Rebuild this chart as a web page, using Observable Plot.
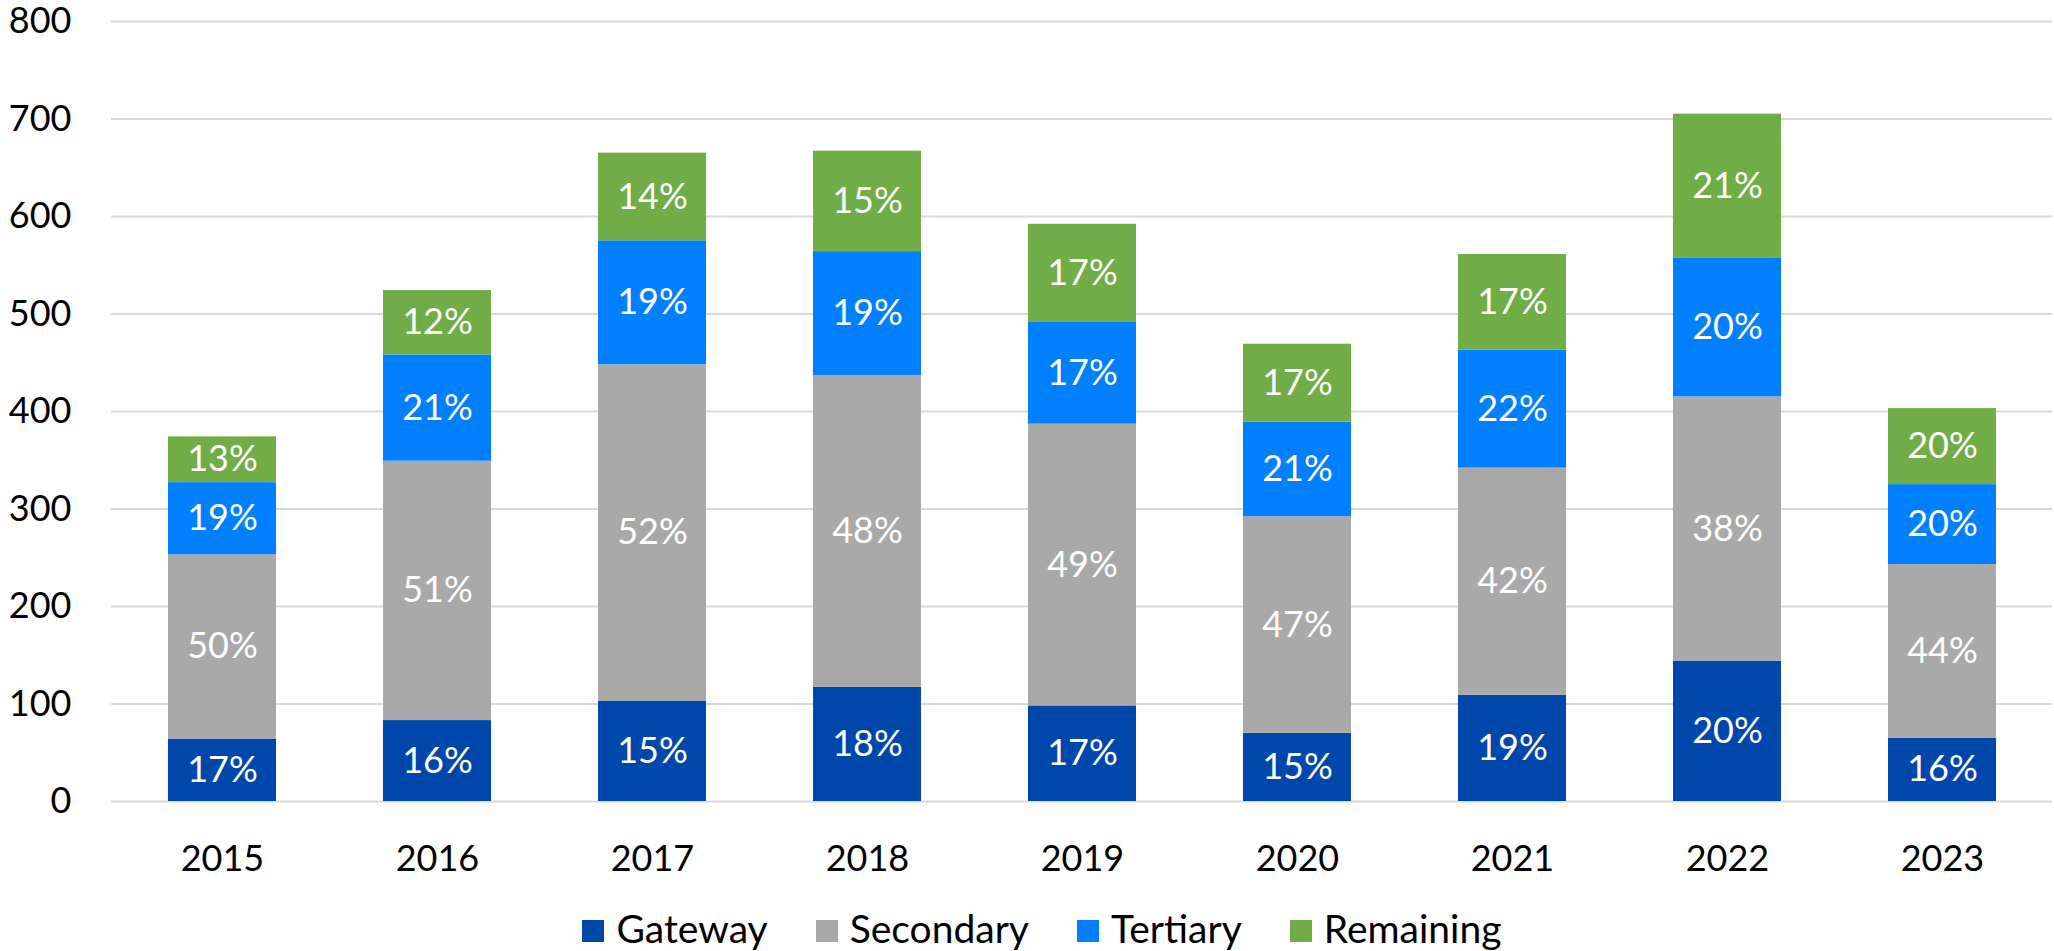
<!DOCTYPE html>
<html>
<head>
<meta charset="utf-8">
<script src="https://cdn.jsdelivr.net/npm/d3@7"></script>
<script src="https://cdn.jsdelivr.net/npm/@observablehq/plot@0.6"></script>
<style>
  html, body { margin: 0; padding: 0; background: #fff; overflow: hidden; }
  #wrap { position: relative; width: 2054px; height: 951px; }
  #chart svg { display: block; overflow: visible; }
  .legend { position: absolute; left: 0; top: 915px; width: 2054px; height: 26px; display: flex; justify-content: center; align-items: center;
            font-family: Lato, "Open Sans", sans-serif; font-size: 39px; line-height: 26px; color: #000; padding-left: 30px; box-sizing: border-box; }
  .legend .item { display: flex; align-items: center; margin: 0 24px; }
  .legend .sw { width: 22px; height: 22px; margin-right: 12px; position: relative; top: 3px; }
</style>
</head>
<body>
<div id="wrap"><div id="chart"></div></div>
<script>
const years = ["2015","2016","2017","2018","2019","2020","2021","2022","2023"];
const seriesNames = ["Gateway","Secondary","Tertiary","Remaining"];
const seriesColors = ["#0047AB","#A9A9A9","#0080FF","#70AD47"];
const gateway   = [64, 83, 103, 117, 98, 70, 109, 144, 65];
const secondary = [189, 266, 345, 320, 289, 222, 233, 271, 178];
const tertiary  = [74, 109, 127, 127, 105, 97, 121, 142, 82];
const remaining = [47, 66, 90, 103, 100, 80, 98, 148, 78];
const gatewayPct   = [17, 16, 15, 18, 17, 15, 19, 20, 16];
const secondaryPct = [50, 51, 52, 48, 49, 47, 42, 38, 44];
const tertiaryPct  = [19, 21, 19, 19, 17, 21, 22, 20, 20];
const remainingPct = [13, 12, 14, 15, 17, 17, 17, 21, 20];
const yTicks = [0, 100, 200, 300, 400, 500, 600, 700, 800];

const values = [gateway, secondary, tertiary, remaining];
const pcts = [gatewayPct, secondaryPct, tertiaryPct, remainingPct];
const data = [];
years.forEach((yr, i) => {
  seriesNames.forEach((s, j) => {
    data.push({year: yr, series: s, value: values[j][i], pct: pcts[j][i]});
  });
});

const plot = Plot.plot({
  width: 2054,
  height: 895,
  marginLeft: 111,
  marginRight: 2,
  marginTop: 21,
  marginBottom: 94,
  style: {fontFamily: "Lato, 'Open Sans', sans-serif", fontSize: "36px", color: "#000", background: "#fff"},
  x: {domain: years, paddingInner: 0.5, paddingOuter: 0.25, label: null},
  y: {domain: [0, 800], label: null},
  color: {domain: seriesNames, range: seriesColors},
  marks: [
    Plot.ruleY(yTicks, {stroke: "#d9d9d9", strokeWidth: 2}),
    Plot.barY(data, {x: "year", y: "value", fill: "series", order: seriesNames}),
    Plot.text(data, Plot.stackY({x: "year", y: "value", z: "series", order: seriesNames,
      text: d => d.pct + "%", fill: "#fff", fontSize: 36})),
    Plot.axisY({ticks: yTicks, tickSize: 0, tickPadding: 40, fontSize: 36, label: null}),
    Plot.axisX({tickSize: 0, tickPadding: 44, fontSize: 36, label: null})
  ]
});
document.getElementById("chart").appendChild(plot);

const legend = document.createElement("div");
legend.className = "legend";
seriesNames.forEach((s, j) => {
  const item = document.createElement("div");
  item.className = "item";
  const sw = document.createElement("span");
  sw.className = "sw";
  sw.style.background = seriesColors[j];
  const lab = document.createElement("span");
  lab.textContent = s;
  item.appendChild(sw);
  item.appendChild(lab);
  legend.appendChild(item);
});
document.getElementById("wrap").appendChild(legend);
</script>
</body>
</html>
